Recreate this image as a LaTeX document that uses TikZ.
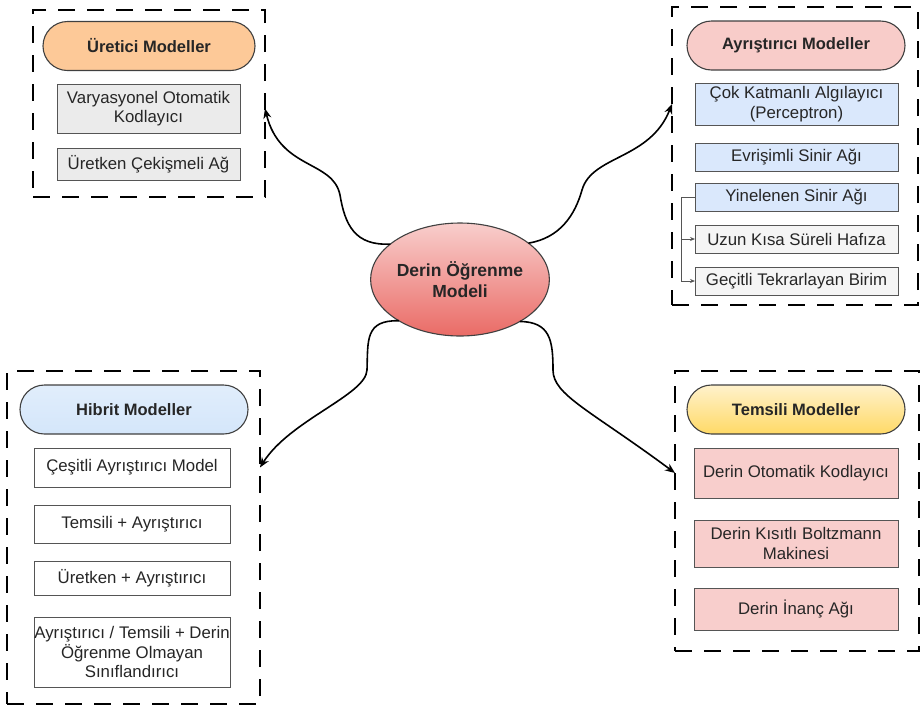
\documentclass[tikz,border=0pt]{standalone}
\usepackage{fontspec}
\setmainfont{Liberation Sans}
\usetikzlibrary{arrows.meta,shapes.geometric,shapes.misc}
\definecolor{pillOrange}{HTML}{FDC998}
\definecolor{pillPink}{HTML}{F8CCC9}
\definecolor{pillBlue}{HTML}{D4E6FA}
\definecolor{pillYellowTop}{HTML}{FFF2CC}
\definecolor{pillYellowBot}{HTML}{FFD966}
\definecolor{boxBlue}{HTML}{DAE8FC}
\definecolor{boxGray}{HTML}{EBEBEB}
\definecolor{boxLight}{HTML}{F5F5F5}
\definecolor{boxPink}{HTML}{F8CECC}
\definecolor{coreBottom}{HTML}{EA6B66}
\definecolor{edgeGray}{HTML}{555555}
\begin{document}
\begin{tikzpicture}[x=1pt,y=-1pt,
  every node/.style={font=\fontsize{16.8}{19.5}\selectfont, text=black!85, align=center, inner sep=0pt, outer sep=0pt},
  frame/.style={draw, dash pattern=on 17pt off 12pt, line width=1.8pt},
  pill/.style={rounded rectangle, draw=black!75, line width=1.1pt, minimum height=49pt, font=\fontsize{16.5}{19}\selectfont\bfseries},
  item/.style={rectangle, draw=edgeGray, line width=1pt},
  conn/.style={line width=1.6pt, -{Stealth[length=10pt,width=8pt]}},
  tree/.style={draw=edgeGray, line width=0.8pt, -{Stealth[length=5pt,width=4pt]}}
]
\useasboundingbox (0,0) rectangle (921,713);

% dashed group frames
\node[frame, minimum width=232pt, minimum height=187pt] (f1) at (149,103.5) {};
\node[frame, minimum width=246pt, minimum height=298pt] (f2) at (795,156) {};
\node[frame, minimum width=253pt, minimum height=333pt] (f3) at (133.5,537.5) {};
\node[frame, minimum width=244pt, minimum height=280pt] (f4) at (797,511) {};

% generative models
\node[pill, fill=pillOrange, minimum width=212pt] (p1) at (149,46) {Üretici Modeller};
\node[item, fill=boxGray, minimum width=183pt, minimum height=49pt] (b11) at (148.5,108.5) {Varyasyonel Otomatik\\Kodlayıcı};
\node[item, fill=boxGray, minimum width=183pt, minimum height=32pt] (b12) at (148.5,164) {Üretken Çekişmeli Ağ};

% discriminative models
\node[pill, fill=pillPink, minimum width=218pt] (p2) at (796,45.5) {Ayrıştırıcı Modeller};
\node[item, fill=boxBlue, minimum width=203pt, minimum height=42pt] (b21) at (796.5,104) {Çok Katmanlı Algılayıcı\\(Perceptron)};
\node[item, fill=boxBlue, minimum width=203pt, minimum height=28pt] (b22) at (796.5,157) {Evrişimli Sinir Ağı};
\node[item, fill=boxBlue, minimum width=203pt, minimum height=28pt] (b23) at (796.5,197) {Yinelenen Sinir Ağı};
\node[item, fill=boxLight, minimum width=203pt, minimum height=28pt] (b24) at (796.5,239) {Uzun Kısa Süreli Hafıza};
\node[item, fill=boxLight, minimum width=203pt, minimum height=28pt] (b25) at (796.5,281) {Geçitli Tekrarlayan Birim};
\draw[tree] (b23.west) -- ++(-14,0) |- (b24.west);
\draw[tree] (b23.west) -- ++(-14,0) |- (b25.west);

% hybrid models
\node[pill, top color=pillBlue!70!white, bottom color=pillBlue, minimum width=228pt] (p3) at (134,409.5) {Hibrit Modeller};
\node[item, fill=white, minimum width=196pt, minimum height=39pt] (b31) at (132,467.5) {Çeşitli Ayrıştırıcı Model};
\node[item, fill=white, minimum width=196pt, minimum height=38pt] (b32) at (132,524) {Temsili + Ayrıştırıcı};
\node[item, fill=white, minimum width=196pt, minimum height=34pt] (b33) at (132,578) {Üretken + Ayrıştırıcı};
\node[item, fill=white, minimum width=196pt, minimum height=70pt] (b34) at (132,652) {Ayrıştırıcı / Temsili + Derin\\Öğrenme Olmayan\\Sınıflandırıcı};

% representative models
\node[pill, top color=pillYellowTop, bottom color=pillYellowBot, minimum width=218pt] (p4) at (796,409.5) {Temsili Modeller};
\node[item, fill=boxPink, minimum width=204pt, minimum height=50pt] (b41) at (796,473) {Derin Otomatik Kodlayıcı};
\node[item, fill=boxPink, minimum width=204pt, minimum height=47pt] (b42) at (796,543.5) {Derin Kısıtlı Boltzmann\\Makinesi};
\node[item, fill=boxPink, minimum width=204pt, minimum height=42pt] (b43) at (796,609) {Derin İnanç Ağı};

% central concept
\node[ellipse, draw=black!75, line width=1.1pt, top color=boxPink, bottom color=coreBottom, minimum width=162pt, minimum height=113pt, font=\fontsize{17.5}{21}\selectfont\bfseries] (c) at (460,279.5) {Derin Öğrenme\\Modeli};

% wavy connectors
\draw[conn] (c.153) .. controls (355,246) and (345,225) .. (340,195)
  .. controls (333,160) and (280,170) .. (f1.east |- b11.center);
\draw[conn] (c.28) .. controls (560,238) and (575,215) .. (582,190)
  .. controls (592,155) and (650,160) .. (f2.west |- b21.center);
\draw[conn] (c.214) .. controls (365,320) and (368,340) .. (367,370)
  .. controls (366,395) and (290,420) .. (f3.east |- b31.center);
\draw[conn] (c.325) .. controls (550,322) and (553,340) .. (553,370)
  .. controls (553,395) and (590,410) .. (f4.west |- b41.center);
\end{tikzpicture}
\end{document}
